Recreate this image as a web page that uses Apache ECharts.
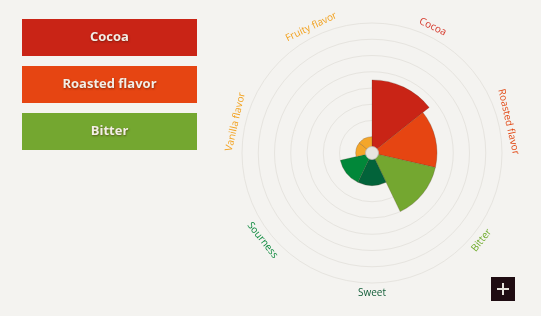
<!DOCTYPE html>
<html>
<head>
<meta charset="utf-8">
<script src="https://cdn.jsdelivr.net/npm/echarts@6/dist/echarts.min.js"></script>
<style>
html,body{margin:0;padding:0;background:#f4f3f0;}
#chart{width:541px;height:316px;}
</style>
</head>
<body>
<div id="chart"></div>
<script>
// ---- data ----
var categories = ['Cocoa', 'Roasted flavor', 'Bitter', 'Sweet', 'Sourness', 'Vanilla flavor', 'Fruity flavor'];
var values = [4.5, 4, 4, 2, 2, 1, 1];
var barColors = ['#c92416', '#e64512', '#74a730', '#02633a', '#018739', '#f4a62a', '#f4a62a'];
var labelColors = ['#d6392c', '#e24a16', '#6fab2c', '#145f3a', '#0d8a3e', '#f2a220', '#f2a220'];
var legendItems = ['Cocoa', 'Roasted flavor', 'Bitter'];
var radiusMax = 8;

var chart = echarts.init(document.getElementById('chart'));
var n = categories.length;
var step = 360 / n;

function tangentRotate(i) {
  var a = step * (i + 0.5); // clockwise from top
  var r = -a;
  while (r < -90) r += 180;
  while (r > 90) r -= 180;
  return r;
}

var graphics = [];
legendItems.forEach(function (name, i) {
  var idx = categories.indexOf(name);
  graphics.push({
    type: 'group', left: 22, top: 19 + i * 47,
    children: [
      { type: 'rect', shape: { x: 0, y: 0, width: 175, height: 37 }, style: { fill: barColors[idx] } },
      { type: 'text', x: 87.5, y: 18.5, style: { text: name, fill: '#f3eee6', font: 'bold 13px "Open Sans"', textAlign: 'center', textVerticalAlign: 'middle', textShadowColor: 'rgba(60,20,0,0.5)', textShadowBlur: 2, textShadowOffsetX: 0.5, textShadowOffsetY: 0.5 } }
    ]
  });
});
graphics.push({
  type: 'group', left: 491, top: 277,
  children: [
    { type: 'rect', shape: { x: 0, y: 0, width: 24, height: 24 }, style: { fill: '#1f0c12' } },
    { type: 'rect', shape: { x: 6, y: 11, width: 12, height: 2 }, style: { fill: '#e6e2dc' } },
    { type: 'rect', shape: { x: 11, y: 6, width: 2, height: 12 }, style: { fill: '#e6e2dc' } }
  ]
});

var option = {
  backgroundColor: '#f4f3f0',
  animation: false,
  graphic: graphics,
  polar: [
    { center: [372, 153], radius: [0, 130] },
    { center: [372, 153], radius: [0, 140] }
  ],
  angleAxis: [
    { polarIndex: 0, type: 'category', data: categories, startAngle: 90, clockwise: true,
      axisLine: { show: false }, axisTick: { show: false }, axisLabel: { show: false }, splitLine: { show: false } },
    { polarIndex: 1, type: 'category', data: categories, startAngle: 90, clockwise: true,
      axisLine: { show: false }, axisTick: { show: false }, axisLabel: { show: false }, splitLine: { show: false } }
  ],
  radiusAxis: [
    { polarIndex: 0, min: 0, max: radiusMax, interval: 1,
      axisLine: { show: false }, axisTick: { show: false }, axisLabel: { show: false },
      splitLine: { show: true, lineStyle: { color: '#e6e4df', width: 1 } } },
    { polarIndex: 1, min: 0, max: 1,
      axisLine: { show: false }, axisTick: { show: false }, axisLabel: { show: false }, splitLine: { show: false } }
  ],
  series: [
    {
      type: 'bar', coordinateSystem: 'polar', polarIndex: 0,
      barCategoryGap: '0%',
      data: values.map(function (v, i) {
        return { value: v, itemStyle: { color: barColors[i] } };
      }),
      itemStyle: { borderColor: 'rgba(70,50,30,0.35)', borderWidth: 0.6 },
      silent: true, z: 2
    },
    {
      type: 'scatter', coordinateSystem: 'polar', polarIndex: 1,
      symbolSize: 1, itemStyle: { color: 'rgba(0,0,0,0)' }, silent: true,
      data: categories.map(function (c, i) {
        return { value: [1, c], label: { show: true, position: 'inside', formatter: c, rotate: tangentRotate(i), color: labelColors[i], opacity: 1, textBorderWidth: 0, fontSize: 10, fontWeight: 500, fontFamily: 'Open Sans' } };
      }),
      z: 3
    },
    {
      type: 'pie', center: [372, 153], radius: [0, 6.5], silent: true,
      label: { show: false }, labelLine: { show: false },
      data: [{ value: 1, itemStyle: { color: '#e7e4de', borderColor: '#bdb8b0', borderWidth: 0.8 } }],
      z: 5
    }
  ]
};
chart.setOption(option);
</script>
</body>
</html>
